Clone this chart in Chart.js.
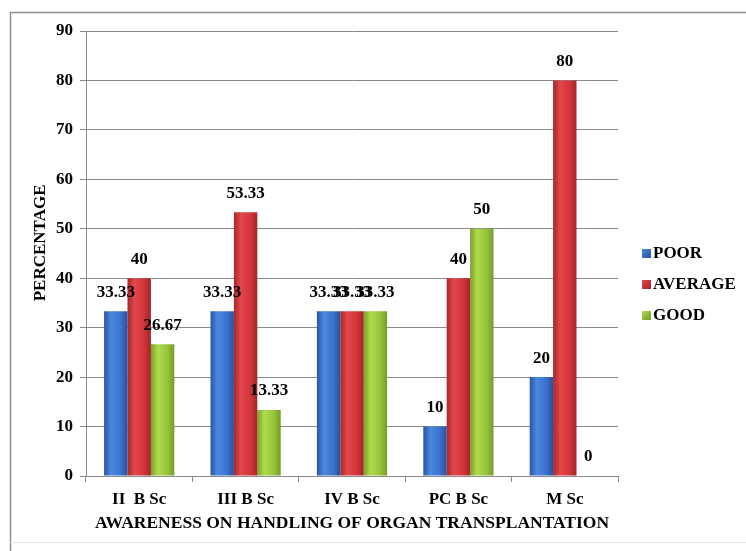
<!DOCTYPE html>
<html>
<head>
<meta charset="utf-8">
<script src="https://cdn.jsdelivr.net/npm/chart.js@4.4.1/dist/chart.umd.min.js"></script>
<style>
  html, body { margin: 0; padding: 0; background: #ffffff; }
  #wrap { width: 746px; height: 551px; }
</style>
</head>
<body>
<div id="wrap"><canvas id="chart" width="746" height="551"></canvas></div>
<script>
// Categories and series
const categories = ['II  B Sc', 'III B Sc', 'IV B Sc', 'PC B Sc', 'M Sc'];
const seriesNames = ['POOR', 'AVERAGE', 'GOOD'];
const poor    = [33.33, 33.33, 33.33, 10, 20];
const average = [40, 53.33, 33.33, 40, 80];
const good    = [26.67, 13.33, 33.33, 50, 0];
const yTicks  = [0, 10, 20, 30, 40, 50, 60, 70, 80, 90];

const xTitle = 'AWARENESS ON HANDLING OF ORGAN TRANSPLANTATION';
// leading spaces lift the rotated title a little above the axis centre
const yTitle = '     PERCENTAGE';

// Cylinder-like shading for each series: edge, highlight, body, edge
const SHADES = [
  ['#2a55a3', '#4b88de', '#3b73cf', '#26509a'],
  ['#a8262a', '#e2474a', '#d3353a', '#a32427'],
  ['#7aa02a', '#addb4c', '#98c43b', '#769b28']
];

const FONT = '"Liberation Serif", "Times New Roman", serif';
const GRID = '#8a8a8a';

const frame = {
  id: 'frame',
  beforeDraw(chart) {
    const c = chart.ctx;
    c.save();
    c.fillStyle = '#ffffff';
    c.fillRect(0, 0, chart.width, chart.height);
    c.strokeStyle = '#8f8f8f';
    c.lineWidth = 1.5;
    c.beginPath();
    c.moveTo(10.5, chart.height);
    c.lineTo(10.5, 12.5);
    c.lineTo(chart.width, 12.5);
    c.stroke();
    c.strokeStyle = '#e6e6e6';
    c.lineWidth = 1;
    c.beginPath();
    c.moveTo(10.5, 542.5);
    c.lineTo(chart.width, 542.5);
    c.stroke();
    c.restore();
  }
};

const barShading = {
  id: 'barShading',
  beforeDatasetsDraw(chart) {
    const c = chart.ctx;
    chart.data.datasets.forEach((ds, i) => {
      const meta = chart.getDatasetMeta(i);
      const s = SHADES[i];
      meta.data.forEach(el => {
        const { x, width } = el.getProps(['x', 'width'], true);
        const g = c.createLinearGradient(x - width / 2, 0, x + width / 2, 0);
        g.addColorStop(0, s[0]);
        g.addColorStop(0.3, s[1]);
        g.addColorStop(0.7, s[2]);
        g.addColorStop(1, s[3]);
        el.options.backgroundColor = g;
      });
    });
  }
};

const valueLabels = {
  id: 'valueLabels',
  afterDatasetsDraw(chart) {
    const c = chart.ctx;
    c.save();
    c.font = 'bold 17px ' + FONT;
    c.fillStyle = '#000000';
    c.textAlign = 'center';
    c.textBaseline = 'middle';
    chart.data.datasets.forEach((ds, i) => {
      const meta = chart.getDatasetMeta(i);
      meta.data.forEach((el, j) => {
        const { x, y } = el.getProps(['x', 'y'], true);
        c.fillText(String(ds.data[j]), x, y - 19);
      });
    });
    c.restore();
  }
};

const sideLegend = {
  id: 'sideLegend',
  afterDraw(chart) {
    const c = chart.ctx;
    c.save();
    c.font = 'bold 17px ' + FONT;
    c.textBaseline = 'middle';
    c.textAlign = 'left';
    const rows = [253, 284, 315];
    chart.data.datasets.forEach((ds, i) => {
      const y = rows[i];
      const g = c.createLinearGradient(642, y - 4, 651, y + 5);
      g.addColorStop(0, SHADES[i][1]);
      g.addColorStop(1, SHADES[i][3]);
      c.fillStyle = g;
      c.fillRect(642, y - 4, 9, 9);
      c.fillStyle = '#000000';
      c.fillText(ds.label, 653, y + 1);
    });
    c.restore();
  }
};

const seriesData = [poor, average, good];

new Chart(document.getElementById('chart'), {
  type: 'bar',
  data: {
    labels: categories,
    datasets: seriesNames.map((name, i) => ({
      label: name,
      data: seriesData[i],
      backgroundColor: () => SHADES[i][2],
      borderWidth: 0,
      categoryPercentage: 0.66,
      barPercentage: 1.0
    }))
  },
  options: {
    responsive: false,
    animation: false,
    devicePixelRatio: 1,
    layout: { padding: { left: 0, top: 31, right: 128, bottom: 0 } },
    plugins: {
      legend: { display: false },
      tooltip: { enabled: false }
    },
    scales: {
      x: {
        grid: { drawOnChartArea: false, drawTicks: true, tickLength: 6, color: GRID },
        border: { display: true, color: GRID },
        ticks: { color: '#000000', font: { family: FONT, size: 17, weight: 'bold' }, padding: 7, maxRotation: 0 },
        title: { display: true, text: xTitle, color: '#000000', font: { family: FONT, size: 17.5, weight: 'bold' }, padding: { top: 0, bottom: 17 } },
        afterFit(scale) { scale.height = 75; }
      },
      y: {
        min: 0,
        max: 90,
        afterBuildTicks(scale) { scale.ticks = yTicks.map(v => ({ value: v })); },
        grid: { color: GRID, tickLength: 6 },
        border: { display: true, color: GRID },
        ticks: { color: '#000000', font: { family: FONT, size: 17, weight: 'bold' }, padding: 7 },
        title: { display: true, text: yTitle, color: '#000000', font: { family: FONT, size: 17, weight: 'bold' }, padding: { top: 30, bottom: 0 } },
        afterFit(scale) { scale.width = 86; }
      }
    }
  },
  plugins: [frame, barShading, valueLabels, sideLegend]
});
</script>
</body>
</html>
